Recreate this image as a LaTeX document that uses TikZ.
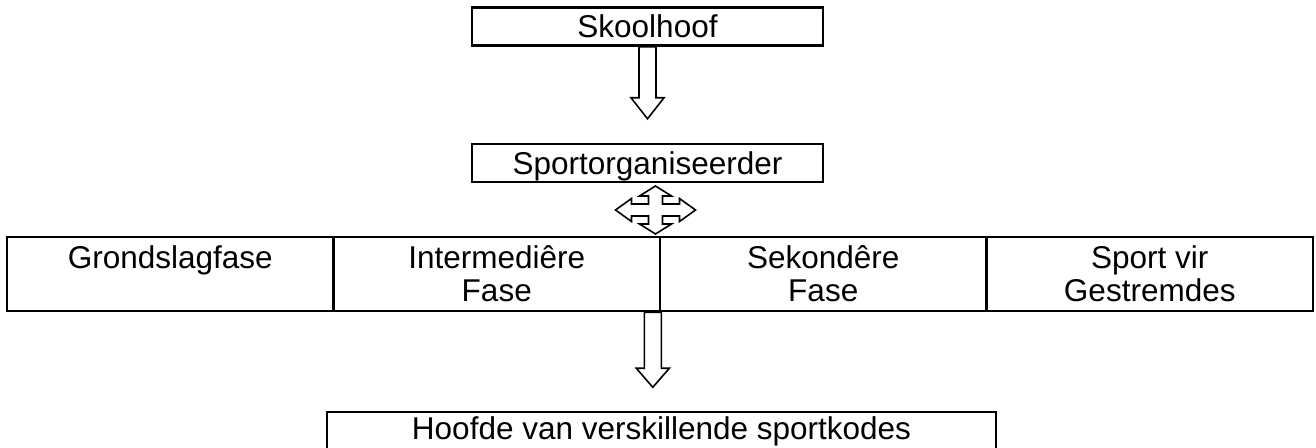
\documentclass[tikz,border=0pt]{standalone}
\usepackage{fontspec}
\setmainfont{Liberation Sans}
\begin{document}
\begin{tikzpicture}[x=0.5pt,y=-0.5pt,font=\fontsize{15.75}{16.5}\selectfont,
  box/.style={draw,line width=1.3pt,minimum height=19pt,inner sep=0pt,text height=11.5pt,text depth=0pt},
  cell/.style={draw,line width=1.3pt,minimum width=163.25pt,minimum height=37pt,inner sep=0pt,align=center},
  hollow/.style={draw,line width=0.8pt,line join=miter}]
\useasboundingbox (0,0) rectangle (1316,448);
\node[box,minimum width=175.5pt] (skool) at (647.5,26.5) {Skoolhoof};
\node[box,minimum width=175.5pt] (sport) at (647.5,163) {Sportorganiseerder};
\node[cell] (c1) at (170.25,274) {Grondslagfase\\\mbox{}};
\node[cell] (c2) at (496.75,274) {Intermediêre\\Fase};
\node[cell] (c3) at (823.25,274) {Sekondêre\\Fase};
\node[cell] (c4) at (1149.75,274) {Sport vir\\Gestremdes};
\node[box,minimum width=334.5pt,text depth=3.5pt] (hoofde) at (661.5,431) {Hoofde van verskillende sportkodes};
% down arrows
\draw[hollow] ([xshift=-4.25pt]skool.south) -- ++(0,51) -- ++(-8,0) -- ++(16.5,21)
  -- ++(16.5,-21) -- ++(-8,0) -- ++(0,-51) -- cycle;
\draw[hollow] (c2.south east) -- ++(0,56) -- ++(8,0) -- ++(-16.5,19)
  -- ++(-16.5,-19) -- ++(8,0) -- ++(0,-56) -- cycle;
% four way arrow
\coordinate (hub) at (655.5,210);
\draw[hollow,shift={(hub)}] (0,-24) -- (16,-14) -- (7,-14) -- (7,-6) -- (24,-6) -- (24,-11.5)
  -- (40,0) -- (24,11.5) -- (24,6) -- (7,6) -- (7,14) -- (16,14) -- (0,24) -- (-16,14)
  -- (-7,14) -- (-7,6) -- (-24,6) -- (-24,11.5) -- (-40,0) -- (-24,-11.5) -- (-24,-6)
  -- (-7,-6) -- (-7,-14) -- (-16,-14) -- cycle;
\end{tikzpicture}
\end{document}
